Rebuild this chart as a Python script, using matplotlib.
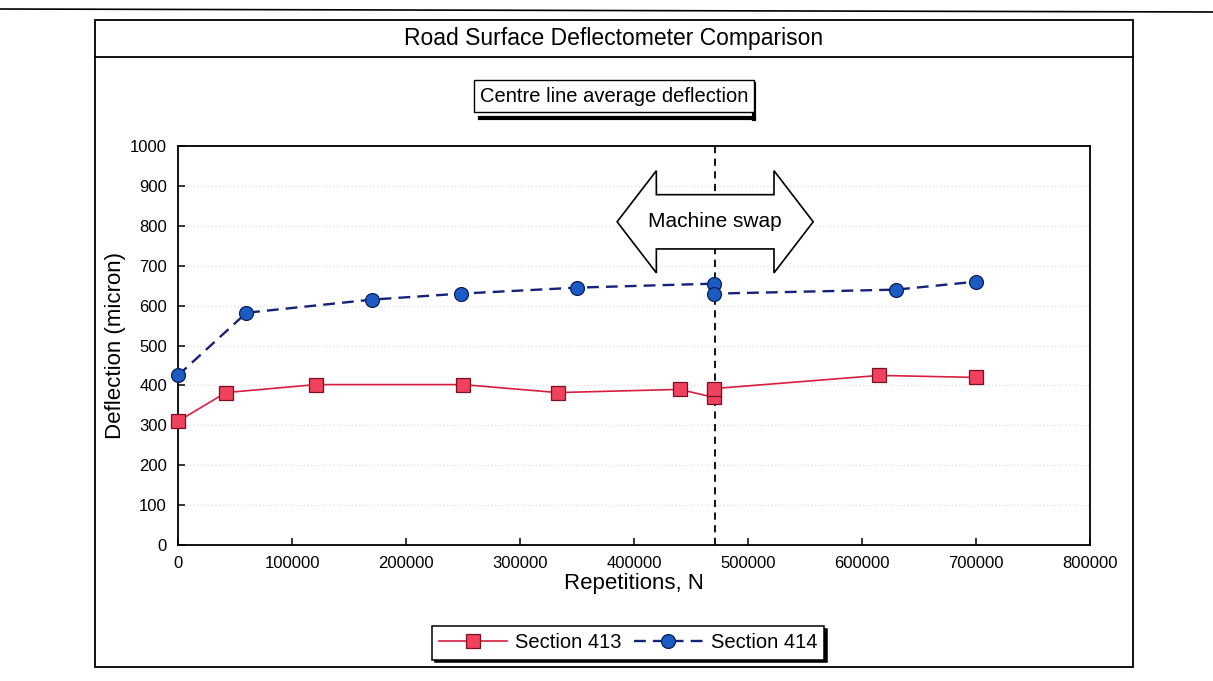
import matplotlib
matplotlib.use('Agg')
import matplotlib.pyplot as plt
from matplotlib.patches import Rectangle, Polygon
from matplotlib.lines import Line2D

plt.rcParams['font.family'] = ['Liberation Sans', 'DejaVu Sans']

# Data
reps_413 = [0, 42000, 121000, 250000, 333000, 440000, 470000, 470000, 615000, 700000]
defl_413 = [310, 382, 402, 402, 382, 390, 370, 392, 425, 420]

reps_414 = [0, 60000, 170000, 248000, 350000, 470000, 470000, 630000, 700000]
defl_414 = [425, 582, 615, 630, 645, 655, 630, 640, 660]

swap_n = 471000
x_ticks = [0, 100000, 200000, 300000, 400000, 500000, 600000, 700000, 800000]
y_ticks = [0, 100, 200, 300, 400, 500, 600, 700, 800, 900, 1000]

W, H = 1213, 681
fig = plt.figure(figsize=(W / 100, H / 100), dpi=100)


def fx(px):
    return px / W


def fy(py):
    return 1 - py / H


# outer frame, title strip and stray page line from the scan
fig.add_artist(Line2D([0, 1], [fy(9), fy(12)], transform=fig.transFigure,
                      color='black', lw=1.2))
fig.add_artist(Rectangle((fx(95), fy(667)), fx(1133) - fx(95), fy(20) - fy(667),
                         transform=fig.transFigure, fill=False, ec='black', lw=1.3))
fig.add_artist(Line2D([fx(95), fx(1133)], [fy(57), fy(57)], transform=fig.transFigure,
                      color='black', lw=1.3))
fig.text(fx(614), fy(39), 'Road Surface Deflectometer Comparison',
         ha='center', va='center', fontsize=16.5)
fig.text(fx(614), fy(96), 'Centre line average deflection',
         ha='center', va='center', fontsize=14.5,
         bbox=dict(boxstyle='square,pad=0.3', fc='white', ec='black', lw=1.0))
# drop shadow of the subtitle box
fig.add_artist(Line2D([fx(754), fx(754)], [fy(84), fy(119)], transform=fig.transFigure,
                      color='black', lw=3))
fig.add_artist(Line2D([fx(480), fx(754)], [fy(117.5), fy(117.5)], transform=fig.transFigure,
                      color='black', lw=3))

ax = fig.add_axes([fx(178), fy(545), fx(1090) - fx(178), fy(146) - fy(545)])

ax.set_xlim(0, 800000)
ax.set_ylim(0, 1000)
ax.yaxis.grid(True, color='#e2e2e2', linestyle=':', linewidth=1.0)
ax.set_axisbelow(True)

ax.axvline(swap_n, color='black', linestyle=(0, (4, 3)), linewidth=1.3, zorder=2)

ax.plot(reps_413, defl_413, color='#d81e3f', linewidth=1.2, marker='s',
        markersize=10, markerfacecolor='#f0415f', markeredgecolor='#7a1020',
        markeredgewidth=0.9, label='Section 413', zorder=4, clip_on=False)
ax.plot(reps_414, defl_414, color='#16217a', linewidth=1.7, linestyle=(0, (5, 3)),
        marker='o', markersize=10, markerfacecolor='#1d5bc4', markeredgecolor='#0b1f5a',
        markeredgewidth=0.9, label='Section 414', zorder=4, clip_on=False)

# "Machine swap" double-headed arrow
cx, cy = 0.589, 0.81
hw, hl, sh, hh = 0.1075, 0.043, 0.068, 0.128
arrow_pts = [(cx - hw, cy), (cx - hw + hl, cy + hh), (cx - hw + hl, cy + sh),
             (cx + hw - hl, cy + sh), (cx + hw - hl, cy + hh), (cx + hw, cy),
             (cx + hw - hl, cy - hh), (cx + hw - hl, cy - sh), (cx - hw + hl, cy - sh),
             (cx - hw + hl, cy - hh)]
ax.add_patch(Polygon(arrow_pts, closed=True, transform=ax.transAxes,
                     fc='white', ec='black', lw=1.2, zorder=5))
ax.text(cx, cy, 'Machine swap', transform=ax.transAxes, ha='center', va='center',
        fontsize=15, zorder=6)

ax.set_xticks(x_ticks)
ax.set_xticklabels([str(v) for v in x_ticks])
ax.set_yticks(y_ticks)
ax.set_yticklabels([str(v) for v in y_ticks])
ax.tick_params(direction='in', length=5, width=1.1, labelsize=12, pad=8)
for s in ax.spines.values():
    s.set_linewidth(1.3)

ax.set_xlabel('Repetitions, N', fontsize=16, labelpad=1)
ax.set_ylabel('Deflection (micron)', fontsize=16, labelpad=3)

leg = ax.legend(loc='center', bbox_to_anchor=(fx(628), fy(643)),
                bbox_transform=fig.transFigure, ncol=2, fontsize=14.5,
                frameon=True, fancybox=False, shadow={'color': 'black', 'alpha': 1},
                edgecolor='black', handlelength=3.4, columnspacing=0.6,
                handletextpad=0.4, borderpad=0.35, numpoints=1)
leg.get_frame().set_linewidth(1.1)
leg.get_frame().set_alpha(1)

fig.savefig('out.png', dpi=100)
